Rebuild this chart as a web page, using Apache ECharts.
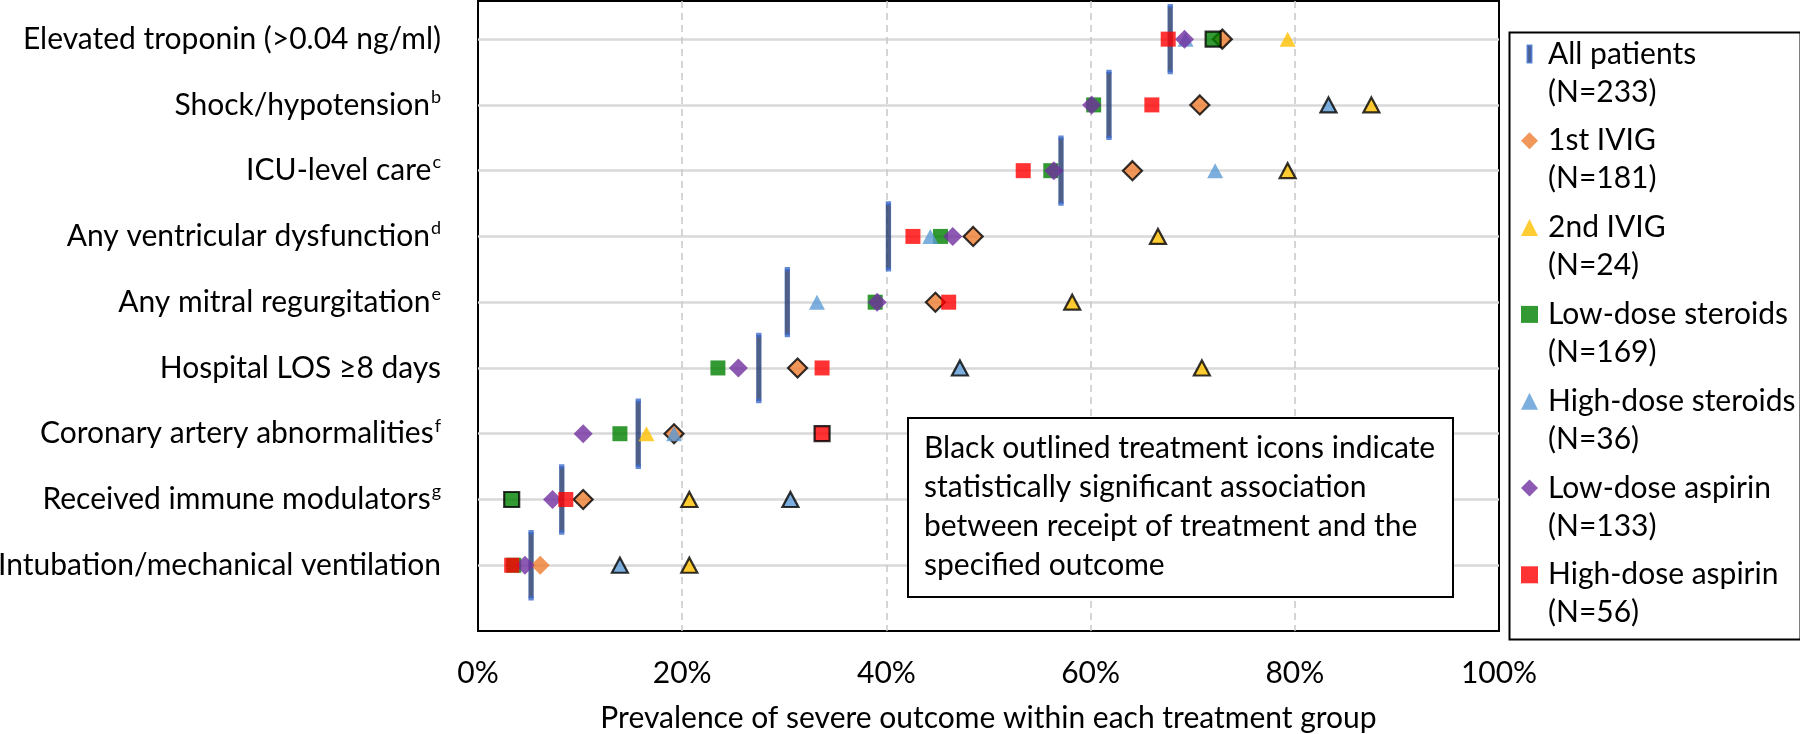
<!DOCTYPE html>
<html>
<head>
<meta charset="utf-8">
<script src="https://cdn.jsdelivr.net/npm/echarts@6/dist/echarts.min.js"></script>
<style>
html,body{margin:0;padding:0;background:#fff;}
#chart{width:1800px;height:734px;}
</style>
</head>
<body>
<div id="chart"></div>
<script>
// ---- data ----
const categories = [
  'Elevated troponin (>0.04 ng/ml)',
  'Shock/hypotension',
  'ICU-level care',
  'Any ventricular dysfunction',
  'Any mitral regurgitation',
  'Hospital LOS \u22658 days',
  'Coronary artery abnormalities',
  'Received immune modulators',
  'Intubation/mechanical ventilation'
];
const superscripts = ['', 'b', 'c', 'd', 'e', '', 'f', 'g', ''];
const xTickValues = [0, 20, 40, 60, 80, 100];

const seriesNames = ['All patients', '1st IVIG', '2nd IVIG', 'Low-dose steroids', 'High-dose steroids', 'Low-dose aspirin', 'High-dose aspirin'];
const seriesN = [233, 181, 24, 169, 36, 133, 56];

const allPatients      = [67.8, 61.8, 57.1, 40.2, 30.3, 27.5, 15.7, 8.2, 5.2];
const ivig1            = [72.9, 70.7, 64.1, 48.5, 44.8, 31.3, 19.2, 10.3, 6.1];
const ivig2            = [79.3, 87.5, 79.3, 66.6, 58.2, 70.9, 16.5, 20.7, 20.7];
const lowSteroids      = [72.0, 60.3, 56.1, 45.3, 38.9, 23.5, 13.9, 3.3, 3.5];
const highSteroids     = [69.3, 83.3, 72.2, 44.3, 33.2, 47.2, 19.2, 30.6, 13.9];
const lowAspirin       = [69.2, 60.1, 56.4, 46.5, 39.1, 25.5, 10.3, 7.3, 4.6];
const highAspirin      = [67.6, 66.0, 53.4, 42.6, 46.1, 33.7, 33.7, 8.6, 3.3];

// 1 = statistically significant (black outlined icon)
const sigIvig1        = [1, 1, 1, 1, 1, 1, 1, 1, 0];
const sigIvig2        = [0, 1, 1, 1, 1, 1, 0, 1, 1];
const sigLowSteroids  = [1, 0, 0, 0, 0, 0, 0, 1, 0];
const sigHighSteroids = [0, 1, 0, 0, 0, 1, 0, 1, 1];
const sigLowAspirin   = [0, 0, 0, 0, 0, 0, 0, 0, 0];
const sigHighAspirin  = [0, 0, 0, 0, 0, 0, 1, 0, 0];

const annotation = 'Black outlined treatment icons indicate\nstatistically significant association\nbetween receipt of treatment and the\nspecified outcome';
const xTitle = 'Prevalence of severe outcome within each treatment group';

// ---- chart ----
const FONT = 'Lato';
const nCat = categories.length;
const rowOf = i => nCat - i;

function pts(vals, sig) {
  return vals.map((v, i) => {
    const d = { value: [v, rowOf(i)] };
    if (sig && sig[i]) d.itemStyle = { borderColor: '#000', borderWidth: 2.2 };
    return d;
  });
}

const markerDefs = [
  { vals: ivig1, sig: sigIvig1, symbol: 'diamond', size: 19, color: '#ED7D31' },
  { vals: ivig2, sig: sigIvig2, symbol: 'triangle', size: [16, 15], color: '#FFC000' },
  { vals: lowSteroids, sig: sigLowSteroids, symbol: 'rect', size: 15, color: '#008000' },
  { vals: highSteroids, sig: sigHighSteroids, symbol: 'triangle', size: [16, 15], color: '#5B9BD5' },
  { vals: lowAspirin, sig: sigLowAspirin, symbol: 'diamond', size: 19, color: '#7030A0' },
  { vals: highAspirin, sig: sigHighAspirin, symbol: 'rect', size: 15, color: '#FF0000' }
];

const series = [{
  name: seriesNames[0],
  type: 'scatter',
  symbol: 'rect',
  symbolSize: [5, 66],
  itemStyle: { color: '#22386A', borderColor: '#3D6BCB', borderWidth: 1.2 },
  data: pts(allPatients, null)
}];
markerDefs.forEach((m, k) => {
  series.push({
    name: seriesNames[k + 1],
    type: 'scatter',
    symbol: m.symbol,
    symbolSize: m.size,
    itemStyle: { color: m.color },
    data: pts(m.vals, m.sig)
  });
});

const legendData = seriesNames.map((n, k) => {
  const d = { name: n };
  if (k === 0) d.icon = 'path://M0,0L4,0L4,17L0,17Z';
  return d;
});

const gray = '#D9D9D9';
const ySplitColors = ['rgba(0,0,0,0)'].concat(Array(9).fill(gray)).concat(['rgba(0,0,0,0)']);
const xSplitColors = xTickValues.map((v, i) => (i === 0 || i === xTickValues.length - 1) ? 'rgba(0,0,0,0)' : '#C8C8C8');

const option = {
  animation: false,
  backgroundColor: '#fff',
  grid: {
    left: 478, right: 301, top: 1, bottom: 103,
    show: true, borderColor: '#000', borderWidth: 2,
    containLabel: false, outerBoundsMode: 'none'
  },
  xAxis: {
    type: 'value',
    min: xTickValues[0], max: xTickValues[xTickValues.length - 1], interval: 20,
    axisLine: { show: false }, axisTick: { show: false },
    axisLabel: { formatter: '{value}%', fontFamily: FONT, fontSize: 30, color: '#000', margin: 27 },
    splitLine: { show: true, lineStyle: { color: xSplitColors, type: [7, 5], width: 1.5 } },
    name: xTitle, nameLocation: 'middle', nameGap: 72,
    nameTextStyle: { fontFamily: FONT, fontSize: 30, color: '#000' }
  },
  yAxis: {
    type: 'value', min: 0, max: 9.58, interval: 1,
    axisLine: { show: false }, axisTick: { show: false },
    splitLine: { show: true, lineStyle: { color: ySplitColors, width: 2.5 } },
    axisLabel: {
      margin: 37,
      formatter: v => {
        const i = nCat - v;
        if (v !== Math.round(v) || i < 0 || i >= nCat) return '';
        return '{n|' + categories[i] + '}' + (superscripts[i] ? '{s|' + superscripts[i] + '}' : '');
      },
      rich: {
        n: { fontFamily: FONT, fontSize: 30, color: '#000', lineHeight: 38 },
        s: { fontFamily: FONT, fontSize: 18, color: '#000', padding: [0, 0, 16, 1] }
      }
    }
  },
  legend: {
    orient: 'vertical',
    left: 1521, top: -3, padding: 0,
    itemWidth: 17, itemHeight: 17, itemGap: -27.2,
    data: legendData,
    selectedMode: false,
    formatter: name => {
      const k = seriesNames.indexOf(name);
      return '{t| }\n{t|' + name + '}\n{t|(N=' + seriesN[k] + ')}';
    },
    textStyle: {
      fontFamily: FONT, fontSize: 30, color: '#000', lineHeight: 38,
      rich: { t: { fontFamily: FONT, fontSize: 30, color: '#000', lineHeight: 38, padding: [0, 0, 0, 5] } }
    }
  },
  graphic: [
    {
      type: 'rect', left: 1507, top: 30, z: 100,
      shape: { x: 0, y: 0, width: 291, height: 607 },
      style: { fill: 'none', stroke: '#000', lineWidth: 2 }
    },
    {
      type: 'rect', left: 907, top: 417, z: 100, zlevel: 0,
      shape: { x: 0, y: 0, width: 545, height: 179 },
      style: { fill: '#fff', stroke: '#000', lineWidth: 2 }
    },
    {
      type: 'text', left: 924, top: 429, z: 101,
      style: { text: annotation, font: '30px ' + FONT, fill: '#000', lineHeight: 39, align: 'left' }
    }
  ],
  series: series
};

const chart = echarts.init(document.getElementById('chart'));
chart.setOption(option);
</script>
</body>
</html>
